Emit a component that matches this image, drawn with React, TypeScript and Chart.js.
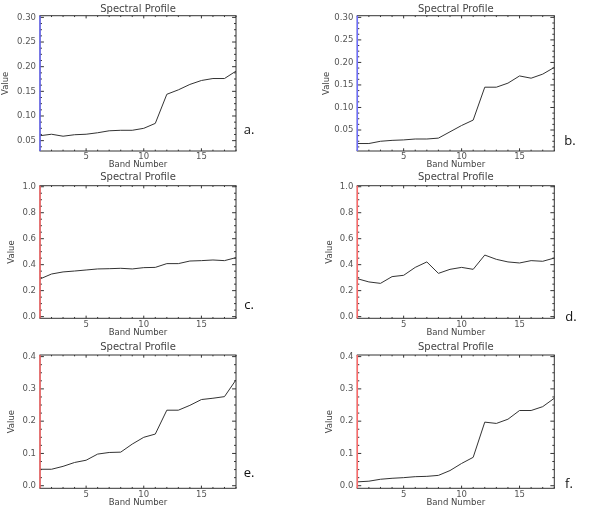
import { useEffect, useRef } from 'react'
import { Chart, registerables } from 'chart.js'

Chart.register(...registerables)

// Band numbers on the x axis
const bandNumbers = [1, 2, 3, 4, 5, 6, 7, 8, 9, 10, 11, 12, 13, 14, 15, 16, 17, 18]
const bandTicks = [5, 10, 15]

// Spectral profiles
const profileA = [0.060, 0.063, 0.059, 0.062, 0.063, 0.066, 0.070, 0.071, 0.071, 0.075, 0.085, 0.144, 0.153, 0.164, 0.172, 0.176, 0.176, 0.191]
const profileB = [0.020, 0.020, 0.025, 0.027, 0.028, 0.030, 0.030, 0.032, 0.046, 0.060, 0.072, 0.145, 0.145, 0.154, 0.170, 0.165, 0.174, 0.189]
const profileC = [0.290, 0.328, 0.344, 0.351, 0.359, 0.367, 0.369, 0.372, 0.367, 0.377, 0.379, 0.408, 0.408, 0.428, 0.431, 0.436, 0.431, 0.454]
const profileD = [0.292, 0.267, 0.256, 0.308, 0.318, 0.379, 0.421, 0.333, 0.364, 0.379, 0.364, 0.474, 0.441, 0.421, 0.413, 0.431, 0.426, 0.451]
const profileE = [0.051, 0.051, 0.060, 0.072, 0.079, 0.098, 0.103, 0.104, 0.129, 0.150, 0.160, 0.234, 0.234, 0.249, 0.267, 0.271, 0.276, 0.328]
const profileF = [0.012, 0.014, 0.020, 0.023, 0.025, 0.028, 0.029, 0.032, 0.047, 0.069, 0.088, 0.197, 0.193, 0.206, 0.233, 0.233, 0.245, 0.271]

// Y tick values and labels
const ticksLow = [0.05, 0.10, 0.15, 0.20, 0.25, 0.30]
const ticksLowLabels = ['0.05', '0.10', '0.15', '0.20', '0.25', '0.30']
const ticksUnit = [0, 0.2, 0.4, 0.6, 0.8, 1.0]
const ticksUnitLabels = ['0.0', '0.2', '0.4', '0.6', '0.8', '1.0']
const ticksMid = [0, 0.1, 0.2, 0.3, 0.4]
const ticksMidLabels = ['0.0', '0.1', '0.2', '0.3', '0.4']

const BLUE = 'rgb(110,110,255)'
const RED = 'rgb(255,105,105)'

interface PanelDef {
  letter: string
  values: number[]
  yTicks: number[]
  yLabels: string[]
  yMin: number
  yMax: number
  minorStep: number
  axisColor: string
  left: number
  top: number
  plotL: number
  plotR: number
  plotT: number
  plotB: number
  titleY: number
  valueX: number
  xLabelY: number
  bandY: number
  letterX: number
  letterY: number
}

const panels: PanelDef[] = [
  { letter: 'a.', values: profileA, yTicks: ticksLow, yLabels: ticksLowLabels, yMin: 0.029, yMax: 0.3034, minorStep: 0.0125, axisColor: BLUE,
    left: 0, top: 0, plotL: 40, plotR: 236, plotT: 15.7, plotB: 151, titleY: 9, valueX: 6, xLabelY: 156.7, bandY: 164.3, letterX: 249, letterY: 129 },
  { letter: 'b.', values: profileB, yTicks: ticksLow, yLabels: ticksLowLabels, yMin: 0.0034, yMax: 0.3037, minorStep: 0.0125, axisColor: BLUE,
    left: 300, top: 0, plotL: 57.3, plotR: 254.3, plotT: 15.7, plotB: 151, titleY: 9, valueX: 26.7, xLabelY: 156.7, bandY: 164.3, letterX: 270, letterY: 140 },
  { letter: 'c.', values: profileC, yTicks: ticksUnit, yLabels: ticksUnitLabels, yMin: -0.013, yMax: 1.008, minorStep: 0.05, axisColor: RED,
    left: 0, top: 170, plotL: 40, plotR: 236, plotT: 15.7, plotB: 148.3, titleY: 7.3, valueX: 11.7, xLabelY: 155, bandY: 162.7, letterX: 249, letterY: 134 },
  { letter: 'd.', values: profileD, yTicks: ticksUnit, yLabels: ticksUnitLabels, yMin: -0.013, yMax: 1.008, minorStep: 0.05, axisColor: RED,
    left: 300, top: 170, plotL: 57.3, plotR: 254.3, plotT: 15.7, plotB: 148.3, titleY: 7.3, valueX: 30, xLabelY: 155, bandY: 162.7, letterX: 271, letterY: 145.7 },
  { letter: 'e.', values: profileE, yTicks: ticksMid, yLabels: ticksMidLabels, yMin: -0.008, yMax: 0.405, minorStep: 0.025, axisColor: RED,
    left: 0, top: 340, plotL: 40, plotR: 236, plotT: 15, plotB: 148.3, titleY: 7.3, valueX: 11.7, xLabelY: 155, bandY: 162.7, letterX: 249, letterY: 131.7 },
  { letter: 'f.', values: profileF, yTicks: ticksMid, yLabels: ticksMidLabels, yMin: -0.008, yMax: 0.405, minorStep: 0.025, axisColor: RED,
    left: 300, top: 340, plotL: 57.3, plotR: 254.3, plotT: 15, plotB: 148.3, titleY: 7.3, valueX: 30, xLabelY: 155, bandY: 162.7, letterX: 269, letterY: 143 },
]

const W = 300
const H = 170
const AXIS_FONT = 8.5
const AXIS_LH = AXIS_FONT * 1.2
const TITLE_FONT = 10
const TITLE_LH = TITLE_FONT * 1.2

// IDL-style frame: box, inward major/minor ticks and the coloured left axis
const framePlugin = {
  id: 'idlFrame',
  afterDatasetsDraw(chart: any, _args: any, opts: any) {
    const { ctx, chartArea, scales } = chart
    const { left, right, top, bottom } = chartArea
    const x = scales.x
    const y = scales.y
    ctx.save()
    ctx.strokeStyle = '#333'
    ctx.lineWidth = 1
    ctx.strokeRect(left, top, right - left, bottom - top)

    const xLen = (bottom - top) * 0.02
    const yLen = (right - left) * 0.02
    ctx.beginPath()
    for (const b of bandNumbers) {
      const px = x.getPixelForValue(b)
      const len = bandTicks.includes(b) ? xLen : xLen / 2
      ctx.moveTo(px, bottom); ctx.lineTo(px, bottom - len)
      ctx.moveTo(px, top); ctx.lineTo(px, top + len)
    }
    const step = opts.minorStep
    for (let v = Math.ceil(y.min / step) * step; v <= y.max + 1e-9; v += step) {
      const isMajor = opts.yTicks.some((t: number) => Math.abs(t - v) < step / 10)
      const py = y.getPixelForValue(v)
      const len = isMajor ? yLen : yLen / 2
      ctx.moveTo(left, py); ctx.lineTo(left + len, py)
      ctx.moveTo(right, py); ctx.lineTo(right - len, py)
    }
    ctx.stroke()

    ctx.strokeStyle = opts.axisColor
    ctx.lineWidth = 1.5
    ctx.beginPath()
    ctx.moveTo(left, top)
    ctx.lineTo(left, bottom)
    ctx.stroke()
    ctx.restore()
  },
}

function Panel({ p }: { p: PanelDef }) {
  const canvasRef = useRef<HTMLCanvasElement>(null)

  useEffect(() => {
    if (!canvasRef.current) return
    const chart = new Chart(canvasRef.current, {
      type: 'line',
      data: {
        datasets: [
          {
            data: bandNumbers.map((b, i) => ({ x: b, y: p.values[i] })),
            borderColor: '#333',
            borderWidth: 1,
            pointRadius: 0,
            tension: 0,
            fill: false,
          },
        ],
      },
      options: {
        animation: false,
        responsive: false,
        events: [],
        layout: { padding: { left: 0, right: W - p.plotR, top: 0, bottom: 0 } },
        scales: {
          x: {
            type: 'linear',
            min: 1,
            max: 18,
            grid: { display: false, drawTicks: false },
            border: { display: false },
            afterBuildTicks: (axis: any) => {
              axis.ticks = bandTicks.map(v => ({ value: v }))
            },
            afterFit: (axis: any) => {
              axis.height = H - p.plotB
            },
            ticks: {
              color: '#555',
              font: { size: AXIS_FONT, family: 'DejaVu Sans' },
              padding: p.xLabelY - p.plotB - AXIS_LH / 2,
              maxRotation: 0,
              autoSkip: false,
            },
            title: {
              display: true,
              text: 'Band Number',
              color: '#444',
              font: { size: AXIS_FONT, family: 'DejaVu Sans' },
              padding: { top: 0, bottom: H - p.bandY - AXIS_LH / 2 },
            },
          },
          y: {
            type: 'linear',
            min: p.yMin,
            max: p.yMax,
            bounds: 'data',
            grid: { display: false, drawTicks: false },
            border: { display: false },
            afterBuildTicks: (axis: any) => {
              axis.ticks = p.yTicks.map(v => ({ value: v }))
            },
            afterFit: (axis: any) => {
              axis.width = p.plotL
            },
            ticks: {
              color: '#555',
              font: { size: AXIS_FONT, family: 'DejaVu Sans' },
              padding: 4,
              autoSkip: false,
              callback: (_v: any, i: number) => p.yLabels[i],
            },
            title: {
              display: true,
              text: 'Value',
              color: '#444',
              font: { size: AXIS_FONT, family: 'DejaVu Sans' },
              padding: { top: p.valueX - AXIS_LH / 2, bottom: 0 },
            },
          },
        },
        plugins: {
          legend: { display: false },
          tooltip: { enabled: false },
          title: {
            display: true,
            text: 'Spectral Profile',
            fullSize: false,
            color: '#444',
            font: { size: TITLE_FONT, family: 'DejaVu Sans', weight: 'normal' },
            padding: { top: p.titleY - TITLE_LH / 2, bottom: p.plotT - p.titleY - TITLE_LH / 2 },
          },
          // @ts-ignore custom plugin options
          idlFrame: { axisColor: p.axisColor, minorStep: p.minorStep, yTicks: p.yTicks },
        },
      },
      plugins: [framePlugin],
    })
    return () => chart.destroy()
  }, [p])

  return (
    <div style={{ position: 'absolute', left: p.left, top: p.top, width: W, height: H }}>
      <canvas ref={canvasRef} width={W} height={H} style={{ display: 'block' }} />
      <div
        style={{
          position: 'absolute',
          left: p.letterX,
          top: p.letterY,
          transform: 'translate(-50%, -50%)',
          font: '13px "Open Sans", sans-serif',
          lineHeight: 1,
          color: '#111',
        }}
      >
        {p.letter}
      </div>
    </div>
  )
}

export default function App() {
  return (
    <div style={{ position: 'absolute', left: 0, top: 0, width: 600, height: 510, background: '#fff' }}>
      {panels.map(p => (
        <Panel key={p.letter} p={p} />
      ))}
    </div>
  )
}
